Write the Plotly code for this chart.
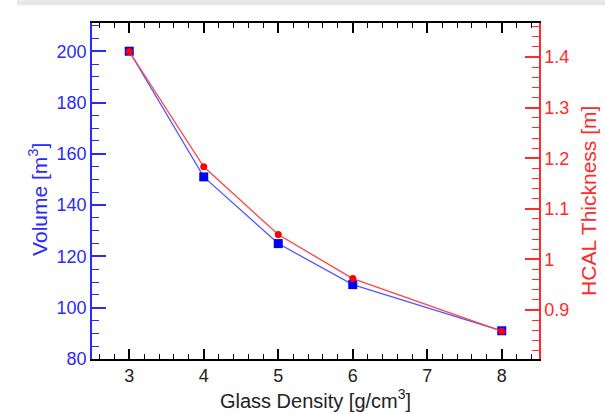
import plotly.graph_objects as go

density = [3, 4, 5, 6, 8]
volume = [200, 151, 125, 109, 91]
thickness = [1.411, 1.183, 1.049, 0.962, 0.858]

BLUE = "#2a2aff"
RED = "#ff2a2a"
FONT = "Liberation Sans, Arial, sans-serif"

L, R, T, B, W, H = 92, 66, 23, 51, 605, 414
PW, PH = W - L - R, H - T - B

def px(x):
    return (x - L) / PW

def py(y):
    return (H - B - y) / PH

fig = go.Figure()
fig.add_trace(go.Scatter(
    x=density, y=volume, mode="lines+markers", yaxis="y",
    line=dict(color="#5555ff", width=1.3),
    marker=dict(symbol="square", size=9, color="#0000ff"),
    showlegend=False))
fig.add_trace(go.Scatter(
    x=density, y=thickness, mode="lines+markers", yaxis="y2",
    line=dict(color="#ff4444", width=1.3),
    marker=dict(symbol="circle", size=7, color="#ff0000"),
    showlegend=False))

fig.update_layout(
    width=W, height=H,
    margin=dict(l=L, r=R, t=T, b=B),
    paper_bgcolor="white", plot_bgcolor="white",
    font=dict(family=FONT, size=17, color="black"),
    xaxis=dict(
        range=[2.5, 8.5], tickvals=[3, 4, 5, 6, 7, 8],
        showline=True, linecolor="black", linewidth=1.5, mirror="ticks",
        ticks="inside", ticklen=10, tickwidth=1.5, tickcolor="black",
        minor=dict(ticks="inside", ticklen=5, dtick=0.2, tickwidth=1.2, tickcolor="black"),
        showgrid=False, zeroline=False,
        tickfont=dict(size=18, color="#222"),
        title=dict(text="Glass Density [g/cm<sup>3</sup>]", font=dict(size=20, color="#222"), standoff=2),
    ),
    yaxis=dict(
        range=[80, 211], tickvals=[80, 100, 120, 140, 160, 180, 200],
        showline=True, linecolor=BLUE, linewidth=1.5,
        ticks="inside", ticklen=14, tickwidth=1.5, tickcolor=BLUE,
        minor=dict(ticks="inside", ticklen=7, dtick=5, tickwidth=1.2, tickcolor=BLUE),
        showgrid=False, zeroline=False,
        tickfont=dict(size=18, color=BLUE),
    ),
    yaxis2=dict(
        range=[0.803, 1.4674], overlaying="y", side="right",
        tickvals=[0.9, 1.0, 1.1, 1.2, 1.3, 1.4], ticktext=["0.9", "1", "1.1", "1.2", "1.3", "1.4"],
        showline=True, linecolor=RED, linewidth=1.5,
        ticks="inside", ticklen=14, tickwidth=1.5, tickcolor=RED,
        minor=dict(ticks="inside", ticklen=7, dtick=0.02, tick0=0.8, tickwidth=1.2, tickcolor=RED),
        showgrid=False, zeroline=False,
        tickfont=dict(size=18, color=RED),
    ),
    annotations=[
        dict(text="Volume [m<sup>3</sup>]", xref="paper", yref="paper",
             x=px(38), y=py(202), xanchor="center", yanchor="middle",
             textangle=-90, showarrow=False, font=dict(size=21, color=BLUE)),
        dict(text="HCAL Thickness [m]", xref="paper", yref="paper",
             x=px(589), y=py(203), xanchor="center", yanchor="middle",
             textangle=-90, showarrow=False, font=dict(size=21, color=RED)),
    ],
    shapes=[dict(type="rect", xref="paper", yref="paper",
                 x0=px(17), x1=px(605), y0=py(5), y1=py(0),
                 fillcolor="#e6e6e6", line=dict(width=0), layer="below")],
)

fig.write_html("out.html", config={"displayModeBar": False},
               post_script="document.body.style.margin='0';")
